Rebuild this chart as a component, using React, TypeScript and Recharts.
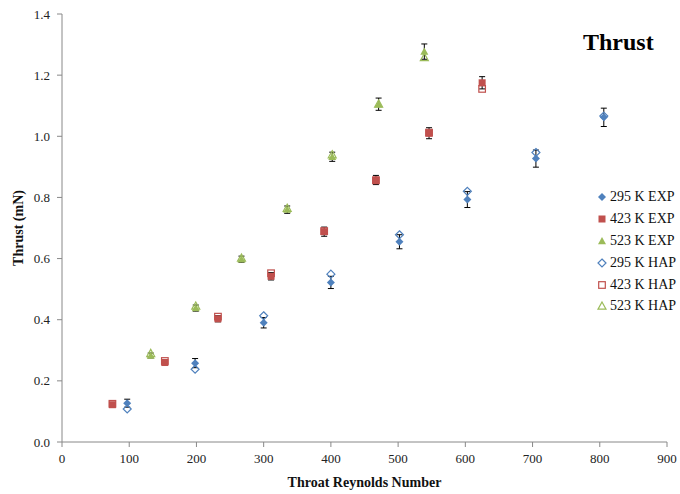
import React from "react";
import { ScatterChart, Scatter, XAxis, YAxis, ErrorBar } from "recharts";

const x295 = [97, 198, 300, 400, 502, 603, 705, 806];
const exp295 = [0.127, 0.258, 0.39, 0.522, 0.655, 0.793, 0.927, 1.062];
const err295 = [0.013, 0.015, 0.017, 0.02, 0.023, 0.026, 0.028, 0.03];
const hap295 = [0.108, 0.238, 0.413, 0.549, 0.678, 0.82, 0.947, 1.066];

const x423 = [75, 153, 232, 311, 390, 467, 546, 625];
const exp423 = [0.122, 0.26, 0.403, 0.542, 0.688, 0.857, 1.01, 1.175];
const err423 = [0.006, 0.008, 0.01, 0.012, 0.015, 0.015, 0.018, 0.02];
const hap423 = [0.125, 0.265, 0.41, 0.552, 0.69, 0.856, 1.012, 1.155];

const x523 = [132, 199, 267, 335, 402, 471, 539];
const exp523 = [0.283, 0.438, 0.598, 0.76, 0.933, 1.105, 1.277];
const err523 = [0.008, 0.01, 0.01, 0.012, 0.015, 0.02, 0.025];
const hap523 = [0.29, 0.445, 0.602, 0.765, 0.94, 1.106, 1.258];

const xTicks = [0, 100, 200, 300, 400, 500, 600, 700, 800, 900];
const yTicks = [0, 0.2, 0.4, 0.6, 0.8, 1.0, 1.2, 1.4];

const seriesNames = ["295 K EXP", "423 K EXP", "523 K EXP", "295 K HAP", "423 K HAP", "523 K HAP"];

const BLUE = "#4F81BD";
const RED = "#C0504D";
const GREEN = "#9BBB59";
const SERIF = "Liberation Serif";

const mk = (xs: number[], ys: number[], es?: number[]) =>
  xs.map((x, i) => ({ x, y: ys[i], err: es ? es[i] : 0 }));

type Kind = "diamond" | "square" | "triangle";

const Marker = ({ kind, color, filled, cx, cy }: { kind: Kind; color: string; filled: boolean; cx: number; cy: number }) => {
  const fill = filled ? color : "#fff";
  const fillOpacity = filled ? 1 : 0;
  const sw = filled ? 0 : 1.2;
  if (kind === "diamond") {
    const r = 4;
    return (
      <polygon
        points={`${cx},${cy - r} ${cx + r},${cy} ${cx},${cy + r} ${cx - r},${cy}`}
        fill={fill}
        fillOpacity={fillOpacity}
        stroke={color}
        strokeWidth={sw}
      />
    );
  }
  if (kind === "square") {
    const r = filled ? 3.5 : 3.3;
    return <rect x={cx - r} y={cy - r} width={2 * r} height={2 * r} fill={fill} fillOpacity={fillOpacity} stroke={color} strokeWidth={sw} />;
  }
  const r = 4;
  return (
    <polygon
      points={`${cx},${cy - r} ${cx + r},${cy + r * 0.8} ${cx - r},${cy + r * 0.8}`}
      fill={fill}
      fillOpacity={fillOpacity}
      stroke={color}
      strokeWidth={sw}
    />
  );
};

const shapeFor = (kind: Kind, color: string, filled: boolean) => (props: any) =>
  <Marker kind={kind} color={color} filled={filled} cx={props.cx} cy={props.cy} />;

const legendItems: { name: string; kind: Kind; color: string; filled: boolean }[] = [
  { name: seriesNames[0], kind: "diamond", color: BLUE, filled: true },
  { name: seriesNames[1], kind: "square", color: RED, filled: true },
  { name: seriesNames[2], kind: "triangle", color: GREEN, filled: true },
  { name: seriesNames[3], kind: "diamond", color: BLUE, filled: false },
  { name: seriesNames[4], kind: "square", color: RED, filled: false },
  { name: seriesNames[5], kind: "triangle", color: GREEN, filled: false },
];

export default function App() {
  return (
    <div style={{ position: "absolute", left: 0, top: 0, width: 680, height: 494, background: "#fff", fontFamily: SERIF }}>
      <ScatterChart width={680} height={494} margin={{ top: 14, right: 13, bottom: 0, left: 0 }} style={{ fontFamily: SERIF }}>
        <XAxis
          type="number"
          dataKey="x"
          domain={[0, 900]}
          ticks={xTicks}
          allowDataOverflow
          height={52}
          stroke="#888"
          tickSize={5}
          tickMargin={7}
          tick={{ fill: "#222", fontSize: 13, fontFamily: SERIF }}
          label={{
            value: "Throat Reynolds Number",
            position: "insideBottom",
            offset: 7,
            fontFamily: SERIF,
            style: { fill: "#111", fontSize: 14, fontWeight: "bold", fontFamily: SERIF },
          }}
        />
        <YAxis
          type="number"
          dataKey="y"
          domain={[0, 1.4]}
          ticks={yTicks}
          allowDataOverflow
          width={62}
          stroke="#888"
          tickSize={5}
          tickMargin={7}
          tickFormatter={(v: number) => v.toFixed(1)}
          tick={{ fill: "#222", fontSize: 13, fontFamily: SERIF }}
          label={{
            value: "Thrust (mN)",
            angle: -90,
            position: "insideLeft",
            offset: 18,
            fontFamily: SERIF,
            style: { fill: "#111", fontSize: 14, fontWeight: "bold", fontFamily: SERIF, textAnchor: "middle" },
          }}
        />
        <Scatter name={seriesNames[0]} data={mk(x295, exp295, err295)} shape={shapeFor("diamond", BLUE, true)} isAnimationActive={false}>
          <ErrorBar dataKey="err" direction="y" width={3} stroke="#000" strokeWidth={1} />
        </Scatter>
        <Scatter name={seriesNames[1]} data={mk(x423, exp423, err423)} shape={shapeFor("square", RED, true)} isAnimationActive={false}>
          <ErrorBar dataKey="err" direction="y" width={3} stroke="#000" strokeWidth={1} />
        </Scatter>
        <Scatter name={seriesNames[2]} data={mk(x523, exp523, err523)} shape={shapeFor("triangle", GREEN, true)} isAnimationActive={false}>
          <ErrorBar dataKey="err" direction="y" width={3} stroke="#000" strokeWidth={1} />
        </Scatter>
        <Scatter name={seriesNames[3]} data={mk(x295, hap295)} shape={shapeFor("diamond", BLUE, false)} isAnimationActive={false} />
        <Scatter name={seriesNames[4]} data={mk(x423, hap423)} shape={shapeFor("square", RED, false)} isAnimationActive={false} />
        <Scatter name={seriesNames[5]} data={mk(x523, hap523)} shape={shapeFor("triangle", GREEN, false)} isAnimationActive={false} />
      </ScatterChart>
      <div
        style={{
          position: "absolute",
          left: 583,
          top: 28,
          fontFamily: SERIF,
          fontWeight: "bold",
          fontSize: 24,
          lineHeight: "28px",
          color: "#000",
        }}
      >
        Thrust
      </div>
      <div style={{ position: "absolute", left: 596, top: 186, fontFamily: SERIF, fontSize: 14, color: "#111" }}>
        {legendItems.map((it) => (
          <div key={it.name} style={{ display: "flex", alignItems: "center", height: 21.9 }}>
            <svg width={12} height={12} style={{ marginRight: 2 }}>
              <Marker kind={it.kind} color={it.color} filled={it.filled} cx={6} cy={6} />
            </svg>
            <span>{it.name}</span>
          </div>
        ))}
      </div>
    </div>
  );
}
